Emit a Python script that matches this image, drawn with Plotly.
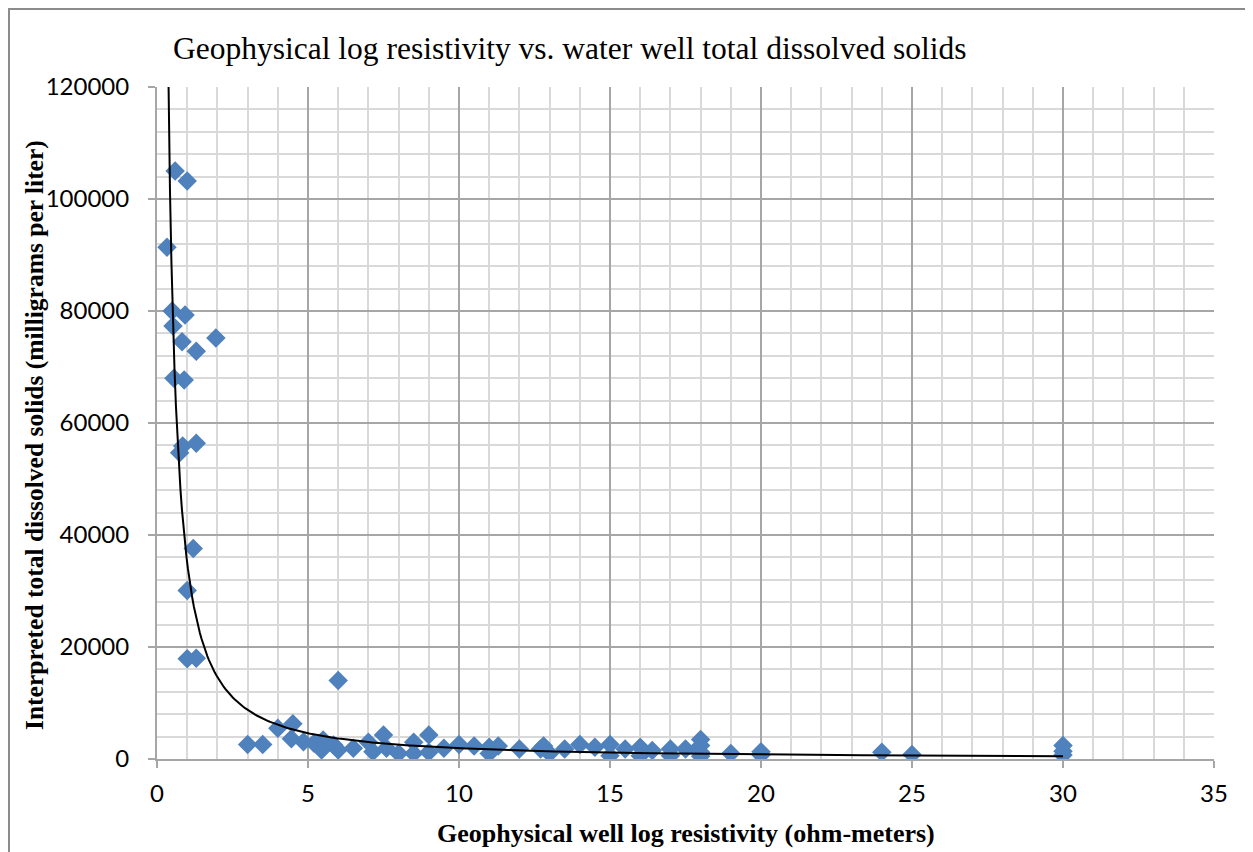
import numpy as np
import plotly.graph_objects as go

# Data
resistivity = [0.33, 0.6, 1.0, 0.5, 0.93, 0.53, 0.83, 1.3, 1.95, 0.56, 0.9, 0.85, 0.75, 1.3,
               1.2, 1.0, 1.0, 1.3,
               3.0, 3.5, 4.0, 4.5, 4.45, 4.85, 5.2, 5.5, 5.45, 5.85, 6.0, 6.0, 6.5, 7.0, 7.15,
               7.5, 7.6, 8.0, 8.5, 8.5, 9.0, 9.0, 9.5, 10.0, 10.5, 11.0, 11.0, 11.3, 12.0,
               12.7, 12.8, 13.0, 13.5, 14.0, 14.5, 15.0, 15.0, 15.5, 16.0, 16.0, 16.4, 17.0,
               17.0, 17.5, 18.0, 18.0, 18.0, 18.0, 19.0, 20.0, 20.0, 24.0, 25.0, 30.0, 30.0, 30.0]
tds = [91400, 105000, 103200, 80000, 79300, 77300, 74500, 72800, 75200, 68000, 67700, 55900,
       54700, 56400, 37600, 30100, 17900, 18000,
       2600, 2600, 5500, 6300, 3600, 3100, 2800, 3400, 1600, 2500, 1600, 14000, 1900, 3000,
       1300, 4300, 1900, 1000, 3000, 1000, 4300, 1200, 1900, 2600, 2300, 2100, 1000, 2300,
       1800, 1800, 2300, 1000, 1800, 2600, 2100, 2600, 600, 1800, 2100, 600, 1500, 1800,
       600, 1800, 3500, 2400, 1200, 500, 1000, 1300, 700, 1200, 800, 2400, 1400, 700]

# Power trendline y = a * x^b, coefficients
TREND_A = 35000
TREND_B = -1.26

x_ticks = [0, 5, 10, 15, 20, 25, 30, 35]
y_ticks = [0, 20000, 40000, 60000, 80000, 100000, 120000]

title_text = "Geophysical log resistivity vs. water well total dissolved solids"
x_title = "Geophysical well log resistivity (ohm-meters)"
y_title = "Interpreted total dissolved solids (milligrams per liter)"

W, H = 1253, 852
OFF = 8  # page body margin
# target plot area in screenshot pixels
PX0, PX1, PY0, PY1 = 157, 1214, 87, 759
L = PX0 - OFF
T = PY0 - OFF
R = W - (PX1 - OFF)
B = H - (PY1 - OFF)
pw, ph = PX1 - PX0, PY1 - PY0

def px_x(p):
    return (p - PX0) / pw

def px_y(p):
    return (PY1 - p) / ph

tx = np.linspace(min(resistivity), max(resistivity), 600)
ty = TREND_A * tx ** TREND_B

fig = go.Figure()
fig.add_trace(go.Scatter(
    x=resistivity, y=tds, mode="markers",
    marker=dict(symbol="diamond", size=15, color="#4f81bd", line=dict(width=0)),
    showlegend=False, hoverinfo="x+y"))
fig.add_trace(go.Scatter(
    x=tx, y=ty, mode="lines", line=dict(color="black", width=2),
    showlegend=False, hoverinfo="skip"))

tickfont = dict(family="Lato, Open Sans, sans-serif", size=24, color="black")

fig.update_layout(
    width=W, height=H,
    margin=dict(l=L, r=R, t=T, b=B, pad=0),
    paper_bgcolor="white", plot_bgcolor="white",
    showlegend=False,
    xaxis=dict(range=[0, 35], tickvals=x_ticks, ticktext=[str(v) for v in x_ticks],
               showgrid=True, gridcolor="#a6a6a6", gridwidth=2,
               minor=dict(dtick=1, showgrid=True, gridcolor="#d9d9d9", gridwidth=2),
               showline=True, linecolor="#a6a6a6", linewidth=2,
               ticks="outside", ticklen=7, tickcolor="#a6a6a6", tickwidth=2,
               tickfont=tickfont, ticklabelstandoff=5, zeroline=False),
    yaxis=dict(range=[0, 120000], tickvals=y_ticks, ticktext=[str(v) for v in y_ticks],
               showgrid=True, gridcolor="#a6a6a6", gridwidth=2,
               minor=dict(dtick=4000, showgrid=True, gridcolor="#d9d9d9", gridwidth=2),
               showline=True, linecolor="#a6a6a6", linewidth=2,
               ticks="outside", ticklen=7, tickcolor="#a6a6a6", tickwidth=2,
               tickfont=tickfont, ticklabelstandoff=14, zeroline=False),
)

serif = "Liberation Serif, Times New Roman, serif"
fig.add_annotation(text=title_text, xref="paper", yref="paper",
                   x=px_x(570), y=px_y(48), xanchor="center", yanchor="middle",
                   showarrow=False, font=dict(family=serif, size=31.5, color="black"))
fig.add_annotation(text="<b>" + x_title + "</b>", xref="paper", yref="paper",
                   x=px_x(686), y=px_y(833), xanchor="center", yanchor="middle",
                   showarrow=False, font=dict(family=serif, size=26, color="black"))
fig.add_annotation(text="<b>" + y_title + "</b>", xref="paper", yref="paper",
                   x=px_x(35), y=px_y(435), xanchor="center", yanchor="middle",
                   textangle=-90, showarrow=False,
                   font=dict(family=serif, size=25.5, color="black"))

# outer chart border
fig.add_shape(type="rect", xref="paper", yref="paper",
              x0=px_x(9), x1=px_x(1249), y0=px_y(866), y1=px_y(9),
              line=dict(color="#8c8c8c", width=2), fillcolor="rgba(0,0,0,0)", layer="above")

fig.write_html("out.html")
